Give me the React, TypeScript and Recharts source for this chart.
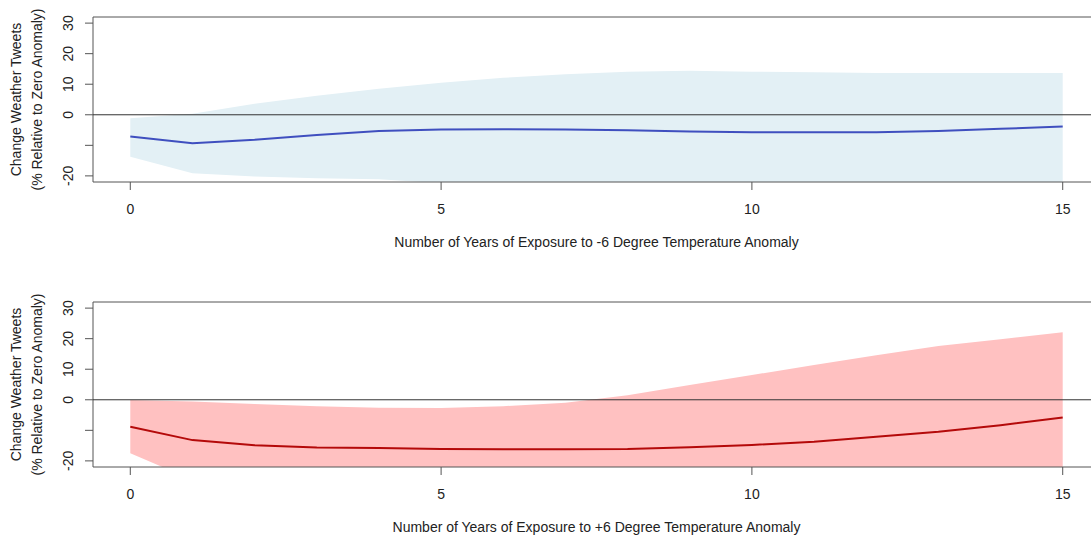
import {
  Area,
  ComposedChart,
  Line,
  ReferenceArea,
  ReferenceLine,
  XAxis,
  YAxis,
} from "recharts";

// exposure years on the x axis
const years = [0, 1, 2, 3, 4, 5, 6, 7, 8, 9, 10, 11, 12, 13, 14, 15];

// -6 degree anomaly panel (top)
const coldCentral = [-7.1, -9.3, -8.2, -6.6, -5.3, -4.8, -4.7, -4.8, -5.1, -5.5, -5.7, -5.7, -5.7, -5.3, -4.6, -3.8];
const coldUpper = [-1.1, 0.3, 3.6, 6.2, 8.5, 10.5, 12.1, 13.3, 14.1, 14.4, 14.1, 13.9, 13.7, 13.7, 13.7, 13.7];
const coldLower = [-13.7, -19.1, -20.2, -20.8, -21.1, -22.4, -22.8, -23.1, -23.4, -23.6, -23.9, -24.1, -24.2, -24.4, -24.6, -24.8];

// +6 degree anomaly panel (bottom)
const hotCentral = [-8.8, -13.2, -14.9, -15.6, -15.8, -16.1, -16.2, -16.2, -16.1, -15.5, -14.8, -13.7, -12.1, -10.5, -8.3, -5.8];
const hotUpper = [-0.1, -0.6, -1.4, -2.1, -2.6, -2.7, -2.1, -1.0, 1.5, 4.8, 8.1, 11.4, 14.6, 17.6, 19.8, 22.1];
const hotLower = [-17.5, -26.2, -28.0, -29.1, -30.0, -30.6, -31.0, -31.4, -32.0, -32.8, -33.9, -35.2, -36.8, -38.5, -40.3, -42.0];

const xTicks = [0, 5, 10, 15];
const yTicks = [-20, -10, 0, 10, 20, 30];
const hiddenYLabels = [-10]; // R dropped this one for overlap

const yTitle = ["Change Weather Tweets", "(% Relative to Zero Anomaly)"];
const coldTitle = "Number of Years of Exposure to -6 Degree Temperature Anomaly";
const hotTitle = "Number of Years of Exposure to +6 Degree Temperature Anomaly";

const FONT = "'Liberation Sans', Arial, sans-serif";
const TEXT = "#222";
const AXIS = "#555";

function YTick(props: any) {
  const { x, y, payload } = props;
  if (hiddenYLabels.includes(payload.value)) return <g />;
  return (
    <text
      transform={`translate(${x},${y}) rotate(-90)`}
      textAnchor="middle"
      dominantBaseline="central"
      fontSize={14}
      fontFamily={FONT}
      fill={TEXT}
    >
      {payload.value}
    </text>
  );
}

function XTick(props: any) {
  const { x, y, payload } = props;
  return (
    <text x={x} y={y} textAnchor="middle" dominantBaseline="central" fontSize={14} fontFamily={FONT} fill={TEXT}>
      {payload.value}
    </text>
  );
}

interface PanelProps {
  central: number[];
  upper: number[];
  lower: number[];
  bandColor: string;
  lineColor: string;
  xTitle: string;
}

function Panel({ central, upper, lower, bandColor, lineColor, xTitle }: PanelProps) {
  const data = years.map((yr, i) => ({
    year: yr,
    central: central[i],
    band: [lower[i], upper[i]] as [number, number],
  }));

  return (
    <ComposedChart width={1110} height={260} data={data} margin={{ top: 17, right: 10, bottom: 0, left: 0 }}>
      <XAxis
        dataKey="year"
        type="number"
        domain={[-0.6, 15.6]}
        ticks={xTicks}
        allowDataOverflow
        height={78}
        axisLine={false}
        tickSize={8}
        tickMargin={19}
        tickLine={{ stroke: AXIS }}
        tick={<XTick />}
        label={(p: any) => {
          const vb = p.viewBox;
          return (
            <text
              x={vb.x + vb.width / 2}
              y={vb.y + 60}
              textAnchor="middle"
              dominantBaseline="central"
              fontSize={14}
              fontFamily={FONT}
              fill={TEXT}
            >
              {xTitle}
            </text>
          );
        }}
      />
      <YAxis
        type="number"
        domain={[-22, 32]}
        ticks={yTicks}
        allowDataOverflow
        width={93}
        axisLine={false}
        tickSize={8}
        tickMargin={17.5}
        tickLine={{ stroke: AXIS }}
        tick={<YTick />}
        label={(p: any) => {
          const vb = p.viewBox;
          const cy = vb.y + vb.height / 2;
          return (
            <g>
              {yTitle.map((t, i) => (
                <text
                  key={t}
                  transform={`translate(${16 + i * 21},${cy}) rotate(-90)`}
                  textAnchor="middle"
                  dominantBaseline="central"
                  fontSize={14}
                  fontFamily={FONT}
                  fill={TEXT}
                >
                  {t}
                </text>
              ))}
            </g>
          );
        }}
      />
      <Area
        type="linear"
        dataKey="band"
        stroke="none"
        fill={bandColor}
        fillOpacity={1}
        isAnimationActive={false}
      />
      <ReferenceLine y={0} stroke="#333" strokeWidth={1} />
      <Line
        type="linear"
        dataKey="central"
        stroke={lineColor}
        strokeWidth={2}
        dot={false}
        isAnimationActive={false}
      />
      <ReferenceArea
        x1={-0.6}
        x2={15.6}
        y1={-22}
        y2={32}
        fill="none"
        stroke={AXIS}
        strokeWidth={1}
        ifOverflow="visible"
      />
    </ComposedChart>
  );
}

export default function App() {
  return (
    <div
      style={{
        position: "fixed",
        left: 0,
        top: 0,
        width: 1091,
        height: 538,
        overflow: "hidden",
        background: "#fff",
      }}
    >
      <div style={{ position: "absolute", left: 0, top: 0 }}>
        <Panel
          central={coldCentral}
          upper={coldUpper}
          lower={coldLower}
          bandColor="#E3F0F5"
          lineColor="#3F4FBF"
          xTitle={coldTitle}
        />
      </div>
      <div style={{ position: "absolute", left: 0, top: 285 }}>
        <Panel
          central={hotCentral}
          upper={hotUpper}
          lower={hotLower}
          bandColor="#FFC1C1"
          lineColor="#B40A0A"
          xTitle={hotTitle}
        />
      </div>
    </div>
  );
}
